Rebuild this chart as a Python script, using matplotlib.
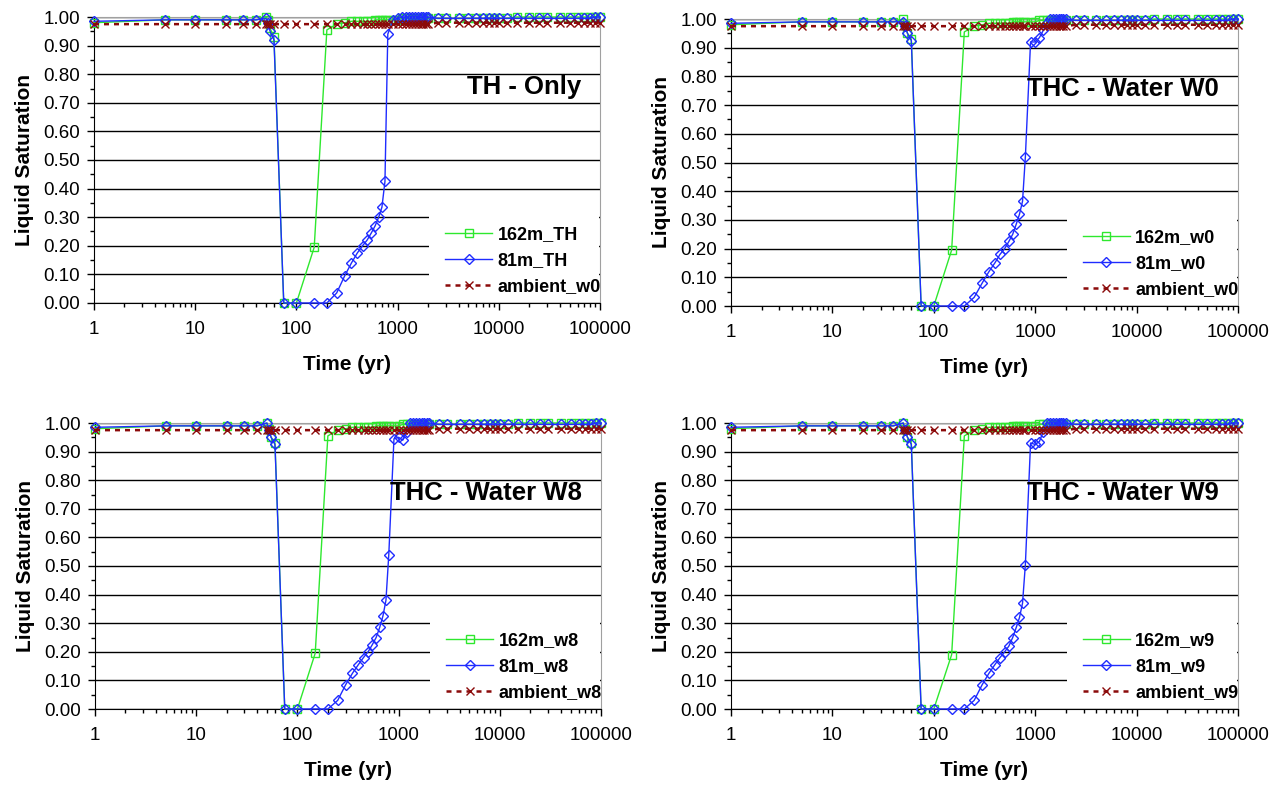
import matplotlib
matplotlib.use('Agg')
import matplotlib.pyplot as plt
from matplotlib.patches import Rectangle
from matplotlib.ticker import FixedLocator, MultipleLocator, LogLocator, NullFormatter

plt.rcParams['font.family'] = ['Liberation Sans', 'DejaVu Sans']

# time points (yr)
time_yr = [1, 5, 10, 20, 30, 40, 50, 52, 55, 60,
           75, 100, 150, 200, 250, 300, 350, 400, 450, 500,
           550, 600, 650, 700, 750, 800, 900, 1000, 1100, 1200,
           1300, 1400, 1500, 1600, 1700, 1800, 1900, 2000, 2500, 3000,
           4000, 5000, 6000, 7000, 8000, 9000, 10000, 12000, 15000, 20000,
           25000, 30000, 40000, 50000, 60000, 70000, 80000, 90000, 100000]

# late-time tails (t >= 1300) shared by the series
tail_162m = [0.995] * 18 + [1.0] * 11
tail_81m = [1.0] * 8 + [0.995] * 19 + [1.0, 1.0]
tail_amb = [0.975] * 8 + [0.98] * 21

sat_162m_TH = [0.98, 0.99, 0.99, 0.99, 0.99, 0.99, 1.00, 0.99, 0.96, 0.93,
               0.00, 0.00, 0.195, 0.955, 0.975, 0.98, 0.985, 0.985, 0.985, 0.985,
               0.985, 0.99, 0.99, 0.99, 0.99, 0.99, 0.99, 0.99, 0.995, 0.995] + tail_162m
sat_81m_TH = [0.985, 0.99, 0.99, 0.99, 0.99, 0.99, 0.995, 0.98, 0.95, 0.92,
              0.00, 0.00, 0.00, 0.00, 0.035, 0.095, 0.14, 0.175, 0.20, 0.22,
              0.245, 0.27, 0.30, 0.335, 0.425, 0.94, 0.99, 0.995, 1.0, 1.0] + tail_81m

sat_162m_w0 = [0.98, 0.99, 0.99, 0.99, 0.99, 0.99, 1.00, 0.98, 0.95, 0.93,
               0.00, 0.00, 0.195, 0.955, 0.975, 0.98, 0.985, 0.985, 0.985, 0.985,
               0.985, 0.99, 0.99, 0.99, 0.99, 0.99, 0.99, 0.99, 0.995, 0.995] + tail_162m
sat_81m_w0 = [0.985, 0.99, 0.99, 0.99, 0.99, 0.99, 0.99, 0.975, 0.95, 0.925,
              0.00, 0.00, 0.00, 0.00, 0.03, 0.08, 0.12, 0.15, 0.18, 0.20,
              0.225, 0.25, 0.285, 0.32, 0.365, 0.52, 0.92, 0.92, 0.935, 0.96] + [0.985] + tail_81m[1:]

sat_162m_w8 = [0.98, 0.99, 0.99, 0.99, 0.99, 0.99, 1.00, 0.98, 0.95, 0.93,
               0.00, 0.00, 0.195, 0.955, 0.975, 0.98, 0.985, 0.985, 0.985, 0.985,
               0.985, 0.99, 0.99, 0.99, 0.99, 0.99, 0.99, 0.99, 0.995, 0.995] + tail_162m
sat_81m_w8 = [0.985, 0.99, 0.99, 0.99, 0.99, 0.99, 1.00, 0.975, 0.95, 0.925,
              0.00, 0.00, 0.00, 0.00, 0.03, 0.085, 0.125, 0.155, 0.18, 0.20,
              0.225, 0.25, 0.285, 0.325, 0.38, 0.54, 0.945, 0.95, 0.94, 0.97] + tail_81m

sat_162m_w9 = [0.98, 0.99, 0.99, 0.99, 0.99, 0.99, 1.00, 0.98, 0.95, 0.93,
               0.00, 0.00, 0.19, 0.955, 0.975, 0.98, 0.985, 0.985, 0.985, 0.985,
               0.985, 0.99, 0.99, 0.99, 0.99, 0.99, 0.99, 0.99, 0.995, 0.995] + tail_162m
sat_81m_w9 = [0.985, 0.99, 0.99, 0.99, 0.99, 0.99, 1.00, 0.975, 0.95, 0.925,
              0.00, 0.00, 0.00, 0.00, 0.03, 0.085, 0.125, 0.155, 0.18, 0.20,
              0.22, 0.25, 0.285, 0.32, 0.37, 0.505, 0.93, 0.925, 0.935, 0.97] + tail_81m

ambient_w0 = [0.975] * 30 + tail_amb
ambient_w8 = [0.975] * 30 + tail_amb
ambient_w9 = [0.975] * 30 + tail_amb

panels = [
    ('TH - Only', sat_162m_TH, sat_81m_TH, ambient_w0, ['162m_TH', '81m_TH', 'ambient_w0'],
     [94, 17, 600, 303]),
    ('THC - Water W0', sat_162m_w0, sat_81m_w0, ambient_w0, ['162m_w0', '81m_w0', 'ambient_w0'],
     [731, 19, 1238, 306]),
    ('THC - Water W8', sat_162m_w8, sat_81m_w8, ambient_w8, ['162m_w8', '81m_w8', 'ambient_w8'],
     [95, 423, 601, 709]),
    ('THC - Water W9', sat_162m_w9, sat_81m_w9, ambient_w9, ['162m_w9', '81m_w9', 'ambient_w9'],
     [731, 423, 1238, 709]),
]

W, H = 1278, 787
fig = plt.figure(figsize=(W / 100, H / 100), dpi=100)

for title, g, b, amb, labels, box in panels:
    x0, y0, x1, y1 = box
    ax = fig.add_axes([x0 / W, 1 - y1 / H, (x1 - x0) / W, (y1 - y0) / H])

    ax.plot(time_yr, g, color='#2ee82e', lw=1.0, marker='s', ms=5.5, mfc='none',
            mec='#2ee82e', mew=1.0, label=labels[0], clip_on=False, zorder=3)
    ax.plot(time_yr, b, color='#1f2cff', lw=1.0, marker='D', ms=5, mfc='none',
            mec='#1f2cff', mew=1.0, label=labels[1], clip_on=False, zorder=4)
    ax.plot(time_yr, amb, color='#8b0a0a', lw=1.8, ls=(0, (2.0, 2.0)), marker='x', ms=5.5,
            mew=1.0, label=labels[2], clip_on=False, zorder=5)

    ax.set_xscale('log')
    ax.set_xlim(1, 100000)
    ax.set_ylim(0, 1.0)

    ax.xaxis.set_major_locator(FixedLocator([1, 10, 100, 1000, 10000, 100000]))
    ax.set_xticklabels(['1', '10', '100', '1000', '10000', '100000'])
    ax.xaxis.set_minor_locator(LogLocator(base=10, subs=range(2, 10)))
    ax.xaxis.set_minor_formatter(NullFormatter())
    ax.yaxis.set_minor_locator(MultipleLocator(0.05))
    ax.set_yticks([i / 10 for i in range(11)])
    ax.set_yticklabels(['%.2f' % (i / 10) for i in range(11)])

    ax.tick_params(axis='both', which='major', direction='out', length=5, width=1,
                   labelsize=13.5, pad=5)
    ax.tick_params(axis='both', which='minor', direction='out', length=3, width=1)
    ax.tick_params(axis='x', which='major', pad=8)

    ax.grid(True, axis='y', which='major', color='black', lw=1.0)
    ax.set_axisbelow(True)
    for side in ['top', 'right']:
        ax.spines[side].set_color('#a0a0a0')
    for side in ['left', 'bottom']:
        ax.spines[side].set_color('black')

    ax.set_ylabel('Liquid Saturation', fontsize=15, fontweight='bold', labelpad=7)
    ax.set_xlabel('Time (yr)', fontsize=15, fontweight='bold', labelpad=12)

    ax.text(0.962, 0.755, title, transform=ax.transAxes, ha='right', va='center',
            fontsize=18.5, fontweight='bold', zorder=6)

    # white legend area hiding the gridlines behind it
    ax.add_patch(Rectangle((0.662, 0.004), 0.336, 0.306, transform=ax.transAxes,
                           facecolor='white', edgecolor='none', zorder=1.5))
    leg = ax.legend(loc='center left', bbox_to_anchor=(0.662, 0.148), frameon=False,
                    prop={'size': 13, 'weight': 'bold'}, handlelength=2.6,
                    handletextpad=0.3, borderpad=0.4, labelspacing=0.5)

fig.savefig('out.png', dpi=100)
